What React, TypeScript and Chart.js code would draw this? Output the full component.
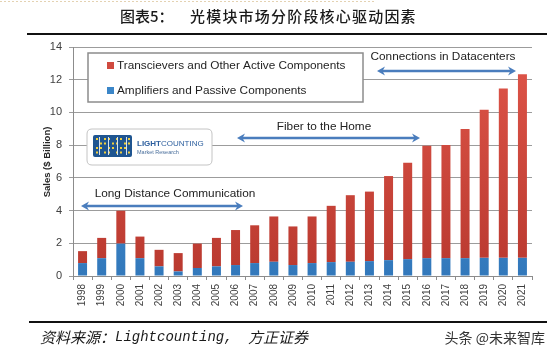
import React, { useEffect, useRef } from "react";
import { Chart, registerables } from "chart.js";

Chart.register(...registerables);

const years = [
  "1998", "1999", "2000", "2001", "2002", "2003", "2004", "2005", "2006", "2007", "2008", "2009",
  "2010", "2011", "2012", "2013", "2014", "2015", "2016", "2017", "2018", "2019", "2020", "2021",
];
const amplifiers = [
  0.79, 1.09, 1.98, 1.09, 0.59, 0.28, 0.49, 0.59, 0.67, 0.79, 0.87, 0.67,
  0.79, 0.85, 0.87, 0.91, 0.97, 1.03, 1.09, 1.09, 1.09, 1.11, 1.11, 1.11,
];
const transceivers = [
  0.73, 1.24, 2.01, 1.32, 1.01, 1.12, 1.49, 1.74, 2.14, 2.31, 2.77, 2.36,
  2.85, 3.44, 4.07, 4.25, 5.14, 5.89, 6.88, 6.92, 7.89, 9.05, 10.36, 11.23,
];
const yTicks = [0, 2, 4, 6, 8, 10, 12, 14];

const seriesNames = ["Transcievers and Other Active Components", "Amplifiers and Passive Components"];
const titleLabel = "图表5：";
const titleText = "光模块市场分阶段核心驱动因素";
const yAxisTitle = "Sales ($ Billion)";
const annotations = [
  { text: "Long Distance Communication", tx: 175, ty: 194, x1: 81, x2: 243, y: 206 },
  { text: "Fiber to the Home", tx: 324, ty: 127, x1: 237, x2: 420, y: 138 },
  { text: "Connections in Datacenters", tx: 443, ty: 57, x1: 377, x2: 516, y: 71 },
];

const RED = "#d04a3f";
const BLUE = "#3b86c8";
const ARROW = "#4a7dbd";

function vGrad(top: string, bottom: string, fallback: string) {
  return (c: any) => {
    const area = c.chart.chartArea;
    if (!area) return fallback;
    const g = c.chart.ctx.createLinearGradient(0, area.top, 0, area.bottom);
    g.addColorStop(0, top);
    g.addColorStop(1, bottom);
    return g;
  };
}

function drawArrow(ctx: CanvasRenderingContext2D, x1: number, x2: number, y: number) {
  ctx.save();
  ctx.strokeStyle = ARROW;
  ctx.fillStyle = ARROW;
  ctx.lineWidth = 2.4;
  ctx.beginPath();
  ctx.moveTo(x1 + 5, y);
  ctx.lineTo(x2 - 5, y);
  ctx.stroke();
  const head = (tip: number, dir: number) => {
    ctx.beginPath();
    ctx.moveTo(tip, y);
    ctx.lineTo(tip - dir * 8, y - 4.5);
    ctx.lineTo(tip - dir * 5.5, y);
    ctx.lineTo(tip - dir * 8, y + 4.5);
    ctx.closePath();
    ctx.fill();
  };
  head(x1, -1);
  head(x2, 1);
  ctx.restore();
}

function roundRect(ctx: CanvasRenderingContext2D, x: number, y: number, w: number, h: number, r: number) {
  ctx.beginPath();
  ctx.moveTo(x + r, y);
  ctx.lineTo(x + w - r, y);
  ctx.quadraticCurveTo(x + w, y, x + w, y + r);
  ctx.lineTo(x + w, y + h - r);
  ctx.quadraticCurveTo(x + w, y + h, x + w - r, y + h);
  ctx.lineTo(x + r, y + h);
  ctx.quadraticCurveTo(x, y + h, x, y + h - r);
  ctx.lineTo(x, y + r);
  ctx.quadraticCurveTo(x, y, x + r, y);
  ctx.closePath();
}

const decoPlugin = {
  id: "deco",
  beforeDraw(chart: any) {
    const { ctx, width, height } = chart;
    ctx.save();
    ctx.fillStyle = "#ffffff";
    ctx.fillRect(0, 0, width, height);
    ctx.restore();
  },
  afterDraw(chart: any) {
    const ctx: CanvasRenderingContext2D = chart.ctx;
    ctx.save();

    // dotted top line
    ctx.strokeStyle = "#e4d2b2";
    ctx.lineWidth = 1;
    ctx.setLineDash([2, 2]);
    ctx.beginPath();
    ctx.moveTo(0, 1.5);
    ctx.lineTo(375, 1.5);
    ctx.stroke();
    ctx.setLineDash([]);

    // title
    ctx.fillStyle = "#1a1a1a";
    ctx.textBaseline = "middle";
    ctx.textAlign = "left";
    ctx.font = '500 15px "Noto Sans CJK SC"';
    ctx.fillText(titleLabel, 120, 16);
    (ctx as any).letterSpacing = "1.2px";
    ctx.fillText(titleText, 190, 16);
    (ctx as any).letterSpacing = "0px";

    // rules
    ctx.fillStyle = "#111111";
    ctx.fillRect(27, 33, 520, 2);
    ctx.fillRect(29, 321, 518, 2);

    // footer
    ctx.fillStyle = "#1a1a1a";
    ctx.font = 'italic 15px "Noto Sans CJK SC"';
    ctx.fillText("资料来源：", 40, 337);
    ctx.font = 'italic 14px "Liberation Mono"';
    ctx.fillText("Lightcounting,", 115, 337);
    ctx.font = 'italic 15px "Noto Sans CJK SC"';
    ctx.fillText("方正证券", 248, 337);
    ctx.fillStyle = "#333333";
    ctx.font = '14px "Noto Sans CJK SC"';
    ctx.textAlign = "right";
    ctx.fillText("头条 @未来智库", 545, 338);

    // y axis title
    ctx.save();
    ctx.translate(47, 162);
    ctx.rotate(-Math.PI / 2);
    ctx.textAlign = "center";
    ctx.fillStyle = "#262626";
    ctx.font = 'bold 9.5px "Liberation Sans"';
    ctx.fillText(yAxisTitle, 0, 0);
    ctx.restore();

    // legend box
    ctx.fillStyle = "#ffffff";
    ctx.fillRect(88, 53, 275, 49);
    ctx.strokeStyle = "#8c8c8c";
    ctx.lineWidth = 1.5;
    ctx.strokeRect(88, 53, 275, 49);
    ctx.textAlign = "left";
    ctx.font = '11.8px "Liberation Sans"';
    ctx.fillStyle = RED;
    ctx.fillRect(107, 62, 7, 7);
    ctx.fillStyle = BLUE;
    ctx.fillRect(107, 87, 7, 7);
    ctx.fillStyle = "#1f1f1f";
    ctx.fillText(seriesNames[0], 117, 66);
    ctx.fillText(seriesNames[1], 117, 91);

    // logo
    roundRect(ctx, 87, 129, 125, 36, 5);
    ctx.fillStyle = "#ffffff";
    ctx.fill();
    ctx.strokeStyle = "#c4c4c4";
    ctx.lineWidth = 1;
    ctx.stroke();
    roundRect(ctx, 93, 135, 39, 22, 2);
    ctx.fillStyle = "#1f5590";
    ctx.fill();
    ctx.fillStyle = "#f2cf3c";
    for (let r = 0; r < 4; r++) {
      for (let c = 0; c < 9; c++) {
        if ((r + c) % 3 === 1) continue;
        ctx.fillRect(96 + c * 4, 138 + r * 4.5, 2, 2);
      }
    }
    ctx.fillStyle = "#d8e4f2";
    for (let c = 0; c < 4; c++) ctx.fillRect(99 + c * 9, 137, 1, 18);
    ctx.fillStyle = "#2d5f9e";
    ctx.font = 'bold 8px "Liberation Sans"';
    ctx.fillText("LIGHT", 137, 144);
    const lw = ctx.measureText("LIGHT").width;
    ctx.font = '8px "Liberation Sans"';
    ctx.fillText("COUNTING", 137 + lw, 144);
    ctx.font = '5.5px "Liberation Sans"';
    ctx.fillStyle = "#4a6f9c";
    ctx.fillText("Market Research", 137, 152);

    // annotations
    ctx.fillStyle = "#222222";
    ctx.textAlign = "center";
    for (const a of annotations) {
      ctx.font = '11.8px "Liberation Sans"';
      ctx.fillText(a.text, a.tx, a.ty);
      drawArrow(ctx, a.x1, a.x2, a.y);
    }

    ctx.restore();
  },
};

export default function App() {
  const ref = useRef<HTMLCanvasElement | null>(null);

  useEffect(() => {
    document.body.style.margin = "0";
    if (!ref.current) return;
    const chart = new Chart(ref.current, {
      type: "bar",
      data: {
        labels: years,
        datasets: [
          {
            label: seriesNames[1],
            data: amplifiers,
            backgroundColor: vGrad("#4e9ad9", "#3278bb", BLUE),
            barPercentage: 0.47,
            categoryPercentage: 1,
            stack: "s",
          },
          {
            label: seriesNames[0],
            data: transceivers,
            backgroundColor: vGrad("#e0564a", "#b9392f", RED),
            barPercentage: 0.47,
            categoryPercentage: 1,
            stack: "s",
          },
        ],
      },
      options: {
        responsive: false,
        animation: false,
        devicePixelRatio: 1,
        layout: { padding: { top: 47, right: 23, left: 0, bottom: 0 } },
        plugins: {
          legend: { display: false },
          tooltip: { enabled: false },
          title: { display: false },
        },
        scales: {
          x: {
            stacked: true,
            offset: true,
            grid: {
              display: true,
              drawOnChartArea: false,
              drawTicks: true,
              tickLength: 4,
              color: "#8c8c8c",
              offset: true,
            },
            border: { display: true, color: "#8c8c8c", width: 1 },
            ticks: {
              minRotation: 90,
              maxRotation: 90,
              autoSkip: false,
              padding: 4,
              color: "#404040",
              font: { family: "Liberation Sans", size: 10 },
            },
            afterFit: (scale: any) => {
              scale.height = 77;
            },
          },
          y: {
            stacked: true,
            min: 0,
            max: 14,
            afterBuildTicks: (scale: any) => {
              scale.ticks = yTicks.map((v) => ({ value: v }));
            },
            grid: {
              color: "#9c9c9c",
              lineWidth: 1,
              tickLength: 4,
              drawTicks: true,
            },
            border: { display: true, color: "#8c8c8c", width: 1 },
            ticks: {
              padding: 7,
              color: "#404040",
              font: { family: "Liberation Sans", size: 11 },
            },
            afterFit: (scale: any) => {
              scale.width = 73;
            },
          },
        },
      },
      plugins: [decoPlugin],
    });
    return () => chart.destroy();
  }, []);

  return (
    <div style={{ width: 555, height: 353 }}>
      <canvas ref={ref} width={555} height={353} style={{ display: "block" }} />
    </div>
  );
}
